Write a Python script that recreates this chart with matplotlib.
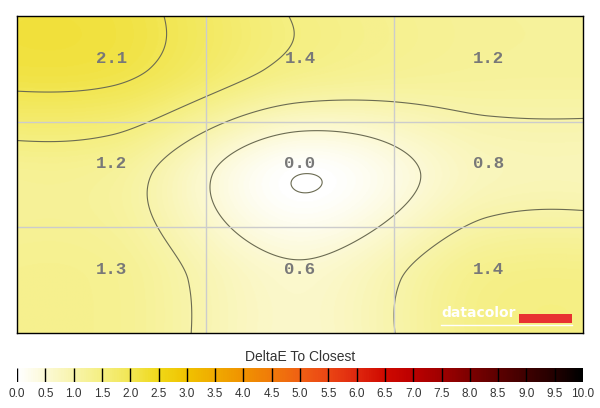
import numpy as np
import matplotlib
matplotlib.use('Agg')
import matplotlib.pyplot as plt
from matplotlib.colors import LinearSegmentedColormap
from matplotlib.patches import Rectangle

# deltaE measured per patch (rows top -> bottom, cols left -> right)
delta_e = np.array([[2.1, 1.4, 1.2],
                    [1.2, 0.0, 0.8],
                    [1.3, 0.6, 1.4]])
contour_levels = [0.0, 0.5, 1.0, 1.5, 2.0]
scale_ticks = np.arange(0, 10.01, 0.5)
scale_labels = ['%.1f' % v for v in scale_ticks]
scale_colors = ['#ffffff', '#fcf9d4', '#f8f4aa', '#f5ef80', '#f2e652', '#f0d818',
                '#f0c200', '#f0aa00', '#f09200', '#f07a0a', '#f06014', '#eb4614',
                '#e0280f', '#d00a00', '#bc0000', '#a00000', '#7e0000', '#5e0000',
                '#400000', '#240000', '#000000']
cmap = LinearSegmentedColormap.from_list('de', list(zip(scale_ticks / 10, scale_colors)))


def keys(d, a=-0.42):
    d = np.abs(d)
    return np.where(d <= 1, (a + 2) * d**3 - (a + 3) * d**2 + 1,
                    np.where(d < 2, a * d**3 - 5 * a * d**2 + 8 * a * d - 4 * a, 0.0))


def cubic_weights(t, n):
    # bicubic weights, edges clamped
    m = np.zeros((len(t), n))
    i0 = np.floor(t).astype(int)
    s = t - i0
    rows = np.arange(len(t))
    for k in range(-1, 3):
        np.add.at(m, (rows, np.clip(i0 + k, 0, n - 1)), keys(s - k))
    return m


xs = np.linspace(-0.5, 2.5, 600)
ys = np.linspace(-0.5, 2.5, 340)
Z = cubic_weights(ys, 3) @ delta_e @ cubic_weights(xs, 3).T

fig = plt.figure(figsize=(6, 4.08), dpi=100)
ax = fig.add_axes([17/600, 1 - 333/408, 566/600, 317/408])
ax.imshow(Z, extent=[-0.5, 2.5, 2.5, -0.5], cmap=cmap, vmin=0, vmax=10,
          aspect='auto', interpolation='bilinear')
ax.contour(xs, ys, Z, levels=contour_levels, colors='#6b6b52', linewidths=0.8)
for g in (0.5, 1.5):
    ax.axvline(g, color='#cccccc', lw=1)
    ax.axhline(g, color='#cccccc', lw=1)
for i in range(3):
    for j in range(3):
        ax.text(j, i - 0.1, '%.1f' % delta_e[i, j], ha='center', va='center',
                fontsize=12.5, fontweight='bold', color='#787878',
                family='Liberation Mono')
ax.set_xlim(-0.5, 2.5)
ax.set_ylim(2.5, -0.5)
ax.set_xticks([])
ax.set_yticks([])
for sp in ax.spines.values():
    sp.set_linewidth(1.0)

# datacolor logo
ax.text(0.749, 0.05, 'datacolor', transform=ax.transAxes, color='white',
        fontsize=10, fontweight='bold', family='DejaVu Sans', va='baseline')
ax.add_patch(Rectangle((0.887, 0.0315), 0.094, 0.029, transform=ax.transAxes,
                       color='#e83232', lw=0))
ax.plot([0.749, 0.981], [0.025, 0.025], transform=ax.transAxes, color='white', lw=1)

# colour scale
cax = fig.add_axes([17/600, 1 - 382/408, 566/600, 14/408])
cax.imshow(np.linspace(0, 10, 600)[None, :], extent=[0, 10, 0, 1], cmap=cmap,
           vmin=0, vmax=10, aspect='auto')
cax.vlines(scale_ticks[:-1], 0, 1, color='black', lw=1)
cax.set_xlim(0, 10)
cax.set_xticks(scale_ticks, scale_labels, fontsize=8.5, family='Liberation Sans', color='#333333')
cax.tick_params(axis='x', length=0, pad=4)
cax.set_yticks([])
for sp in cax.spines.values():
    sp.set_visible(False)
fig.text(0.5, 1 - 357/408, 'DeltaE To Closest', ha='center', va='center',
         fontsize=10, family='Liberation Sans', color='#333333')

fig.savefig('out.png', dpi=100)
